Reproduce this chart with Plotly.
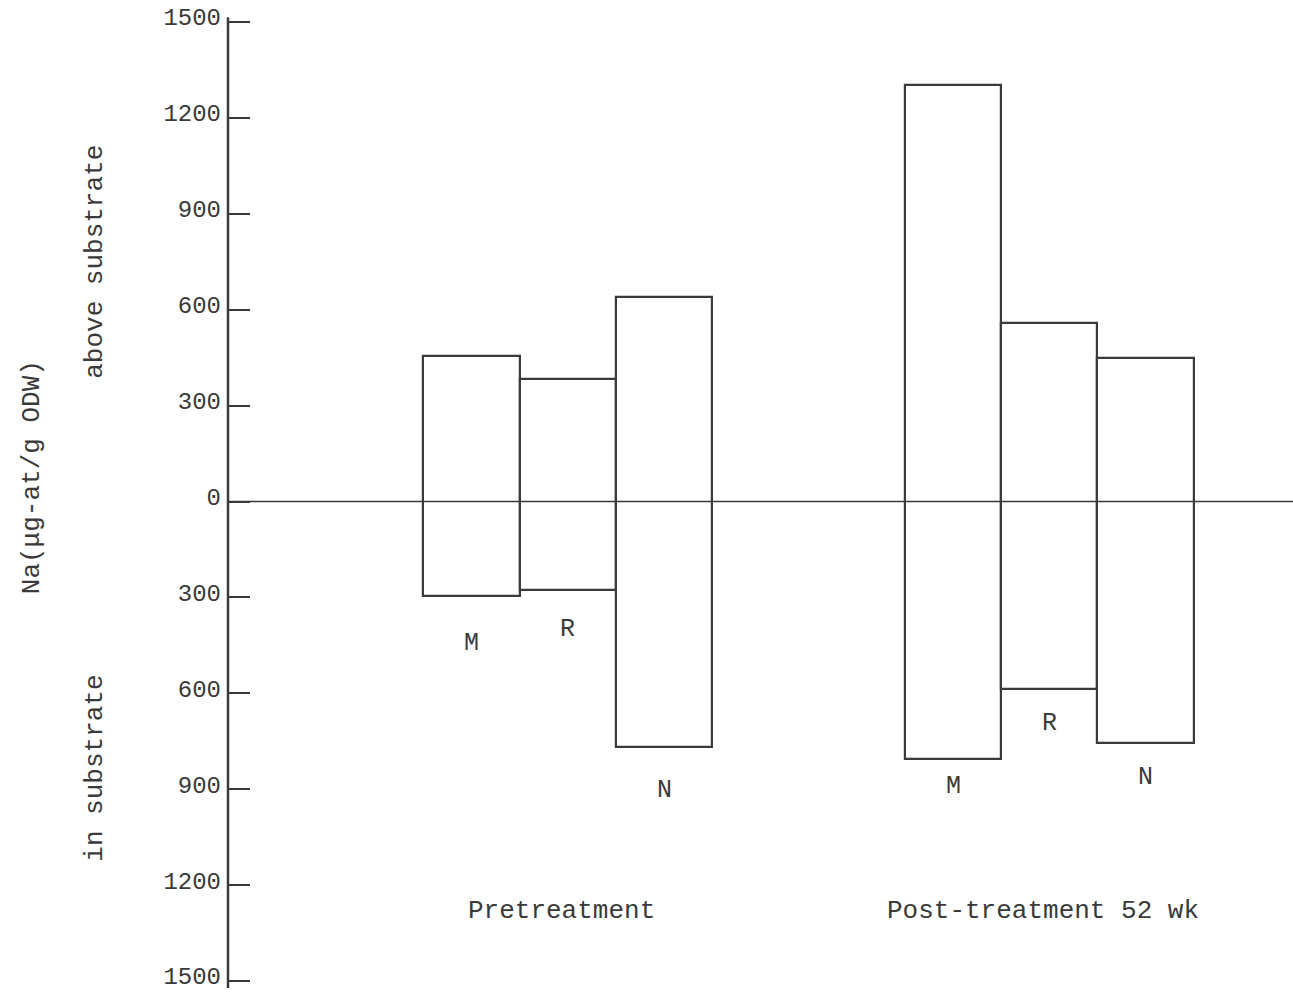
import plotly.graph_objects as go

# ---- data ----
groups = ["Pretreatment", "Post-treatment 52 wk"]
sites = ["M", "R", "N"]
above_pre = [455, 383, 640]      # above substrate, pretreatment
below_pre = [296, 277, 768]      # in substrate, pretreatment
above_post = [1303, 558, 449]    # above substrate, post-treatment
below_post = [805, 587, 755]     # in substrate, post-treatment
tick_values = [1500, 1200, 900, 600, 300, 0, -300, -600, -900, -1200, -1500]
tick_labels = ["1500", "1200", "900", "600", "300", "0", "300", "600", "900", "1200", "1500"]

# ---- layout helpers ----
FONT = "Courier New, Liberation Mono, monospace"
INK = "#3a3a3a"
group_step = 5
label_offsets = [[47, 39, 43], [28, 34, 35]]  # px below bar bottom for site letters

above = [above_pre, above_post]
below = [below_pre, below_post]

xs, bases, heights = [], [], []
for g in range(len(groups)):
    for i in range(len(sites)):
        xs.append(g * group_step + i)
        bases.append(-below[g][i])
        heights.append(above[g][i] + below[g][i])

fig = go.Figure()
fig.add_trace(go.Bar(
    x=xs, y=heights, base=bases, width=1.0,
    marker=dict(color="rgba(255,255,255,0)", line=dict(color=INK, width=2.2)),
    showlegend=False, hoverinfo="skip",
))

annotations = []
for g in range(len(groups)):
    for i, s in enumerate(sites):
        annotations.append(dict(
            x=g * group_step + i, y=-below[g][i], xref="x", yref="y",
            text=s, showarrow=False, yanchor="middle", yshift=-label_offsets[g][i],
            font=dict(family=FONT, size=25, color=INK),
        ))
    annotations.append(dict(
        x=g * group_step + 1, y=-1280, xref="x", yref="y",
        text=groups[g], showarrow=False, yanchor="middle", xshift=-6,
        font=dict(family=FONT, size=26, color=INK),
    ))

# y-axis titles
annotations.append(dict(x=-0.184, y=0.519, xref="paper", yref="paper",
                        xanchor="center", yanchor="middle",
                        text="Na(μg-at/g ODW)", textangle=-90, showarrow=False,
                        font=dict(family=FONT, size=26, color=INK)))
annotations.append(dict(x=-0.125, y=0.736, xref="paper", yref="paper",
                        xanchor="center", yanchor="middle",
                        text="above substrate", textangle=-90, showarrow=False,
                        font=dict(family=FONT, size=26, color=INK)))
annotations.append(dict(x=-0.125, y=0.226, xref="paper", yref="paper",
                        xanchor="center", yanchor="middle",
                        text="in substrate", textangle=-90, showarrow=False,
                        font=dict(family=FONT, size=26, color=INK)))

shapes = [
    # vertical axis line
    dict(type="line", xref="paper", yref="y", x0=0, x1=0, y0=1515, y1=-1522,
         line=dict(color=INK, width=2.5)),
    # zero line
    dict(type="line", xref="paper", yref="y", x0=0, x1=1, y0=0, y1=0,
         line=dict(color=INK, width=1.6)),
]

fig.update_layout(
    width=1293, height=992,
    margin=dict(l=228, r=0, t=0, b=0),
    paper_bgcolor="white", plot_bgcolor="white",
    annotations=annotations, shapes=shapes,
    xaxis=dict(range=[-2.528, 8.53], visible=False, automargin=False),
    yaxis=dict(
        range=[-1534.4, 1568.8], automargin=False,
        tickvals=tick_values, ticktext=tick_labels,
        ticks="inside", ticklen=22, tickwidth=2.2, tickcolor=INK,
        showgrid=False, zeroline=False, showline=False,
        tickfont=dict(family=FONT, size=24, color=INK),
        ticklabelstandoff=6, ticklabeloverflow="allow",
        ticklabelshift=-5,
    ),
    bargap=0,
)

fig.write_html("out.html")
